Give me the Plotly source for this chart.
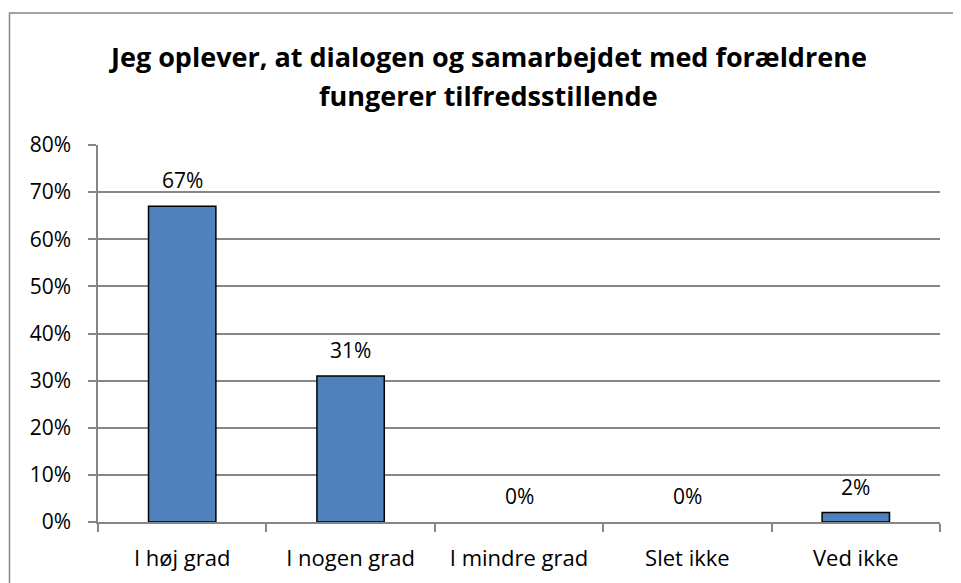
import plotly.graph_objects as go

categories = ["I høj grad", "I nogen grad", "I mindre grad", "Slet ikke", "Ved ikke"]
values = [0.67, 0.31, 0.0, 0.0, 0.02]
value_labels = ["67%", "31%", "0%", "0%", "2%"]
y_ticks = [0, 0.1, 0.2, 0.3, 0.4, 0.5, 0.6, 0.7, 0.8]
y_tick_labels = ["0%", "10%", "20%", "30%", "40%", "50%", "60%", "70%", "80%"]
title_line1 = "Jeg oplever, at dialogen og samarbejdet med forældrene"
title_line2 = "fungerer tilfredsstillende"

FONT = "Open Sans"
OFF = 8  # page body margin
W, H = 961 - OFF, 583 - OFF
# target plot area in screen pixels
SX0, SX1, SY0, SY1 = 98, 940, 145, 522
L, R = SX0 - OFF, (961 - SX1)
T, B = SY0 - OFF, (583 - SY1)
pw, ph = SX1 - SX0, SY1 - SY0

def px_x(px):
    return (px - SX0) / pw

def px_y(py):
    return (SY1 - py) / ph

fig = go.Figure()
fig.add_trace(go.Bar(
    x=categories, y=values, width=0.40,
    marker=dict(color="#4F81BD",
                line=dict(color="#000000", width=[1.5 if v > 0 else 0 for v in values])),
    hoverinfo="skip",
))

annotations = []
for c, v, t in zip(categories, values, value_labels):
    annotations.append(dict(x=c, y=v, xref="x", yref="y", text=t, showarrow=False,
                            yanchor="middle", yshift=26,
                            font=dict(family=FONT, size=21, color="#000000")))
for txt, yy in [(title_line1, 56), (title_line2, 95)]:
    annotations.append(dict(x=px_x(488), y=px_y(yy), xref="paper", yref="paper", text=f"<b>{txt}</b>",
                            showarrow=False, xanchor="center", yanchor="middle",
                            font=dict(family=FONT, size=27, color="#000000")))

fig.update_layout(
    width=W, height=H,
    margin=dict(l=L, r=R, t=T, b=B, pad=0, autoexpand=False),
    paper_bgcolor="#FFFFFF", plot_bgcolor="#FFFFFF",
    showlegend=False,
    annotations=annotations,
    shapes=[dict(type="rect", xref="paper", yref="paper",
                 x0=px_x(9.5), x1=px_x(985), y0=px_y(610), y1=px_y(13),
                 line=dict(color="#868686", width=1.5), fillcolor="rgba(0,0,0,0)", layer="below")],
)
fig.update_xaxes(
    showline=True, linecolor="#868686", linewidth=1.5,
    ticks="outside", ticklen=8, tickcolor="#868686", tickwidth=1.5,
    tickson="boundaries", showgrid=False, automargin=False,
    tickfont=dict(family=FONT, size=22, color="#000000"),
    ticklabelstandoff=16,
)
fig.update_yaxes(
    range=[0, 0.8], tickvals=y_ticks, ticktext=y_tick_labels,
    showline=True, linecolor="#868686", linewidth=1.5,
    ticks="outside", ticklen=8, tickcolor="#868686", tickwidth=1.5,
    showgrid=True, gridcolor="#868686", gridwidth=1.5,
    zeroline=False, automargin=False,
    tickfont=dict(family=FONT, size=21, color="#000000"),
    ticklabelstandoff=13,
)

fig.write_html("out.html")
